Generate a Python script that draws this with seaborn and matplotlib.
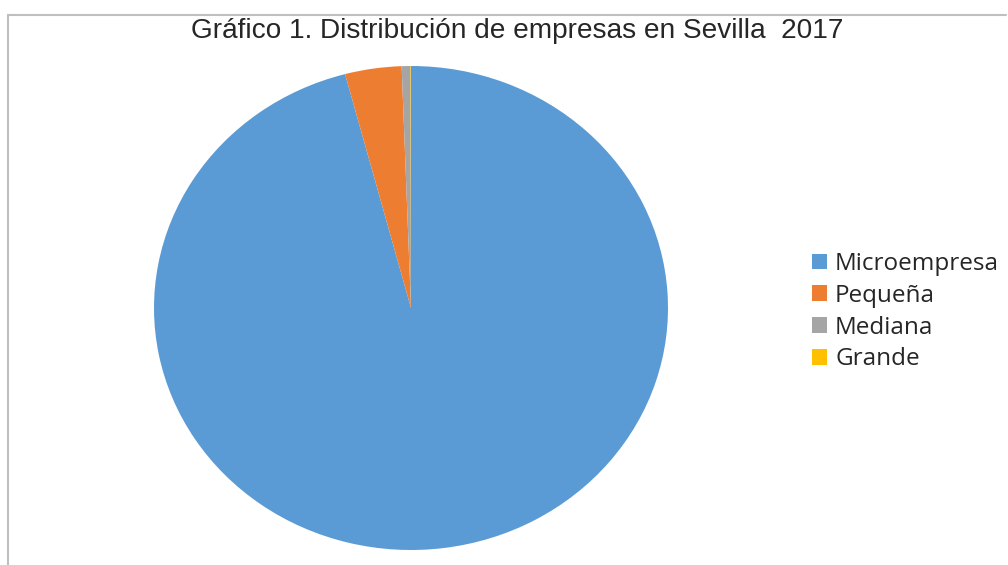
import matplotlib
matplotlib.use("Agg")
import matplotlib.pyplot as plt
from matplotlib.lines import Line2D
import seaborn as sns

# Distribución de empresas por tamaño (%)
categorias = ["Microempresa", "Pequeña", "Mediana", "Grande"]
porcentajes = [95.87, 3.55, 0.55, 0.03]
colores = ["#5B9BD5", "#ED7D31", "#A5A5A5", "#FFC000"]

sns.set_theme(style="white")
plt.rcParams["font.family"] = ["Open Sans", "DejaVu Sans"]

W, H = 1008, 565
fig = plt.figure(figsize=(W / 100, H / 100), dpi=100)
fig.patch.set_facecolor("white")

# Pie area (slightly wider than tall)
cx, cy, rx, ry = 411, 308, 257, 242
ax = fig.add_axes([(cx - rx) / W, (H - cy - ry) / H, 2 * rx / W, 2 * ry / H])
wedges, _ = ax.pie(
    porcentajes,
    colors=sns.color_palette(colores),
    startangle=90,
    counterclock=False,
    wedgeprops=dict(linewidth=0),
)
ax.set_aspect("auto")
ax.set_xlim(-1, 1)
ax.set_ylim(-1, 1)
ax.axis("off")

fig.text(517 / W, 1 - 31 / H, "Gráfico 1. Distribución de empresas en Sevilla  2017",
         ha="center", va="center", fontsize=20.2, color="#262626",
         family=["Liberation Sans", "DejaVu Sans"])

fig.legend(
    wedges, categorias,
    loc="upper left",
    bbox_to_anchor=(812 / W, 1 - 252 / H),
    frameon=False,
    fontsize=17.5,
    handlelength=0.62,
    handleheight=0.62,
    handletextpad=0.33,
    labelspacing=0.32,
    borderpad=0,
    borderaxespad=0,
    labelcolor="#262626",
)

# Chart area border (top and left edges)
fig.add_artist(Line2D([7.5 / W, 7.5 / W], [0, 1 - 14.5 / H], transform=fig.transFigure,
                      color="#BFBFBF", lw=1.5))
fig.add_artist(Line2D([7.5 / W, 1006 / W], [1 - 14.5 / H, 1 - 14.5 / H], transform=fig.transFigure,
                      color="#BFBFBF", lw=1.5))

fig.savefig("out.png", dpi=100)
